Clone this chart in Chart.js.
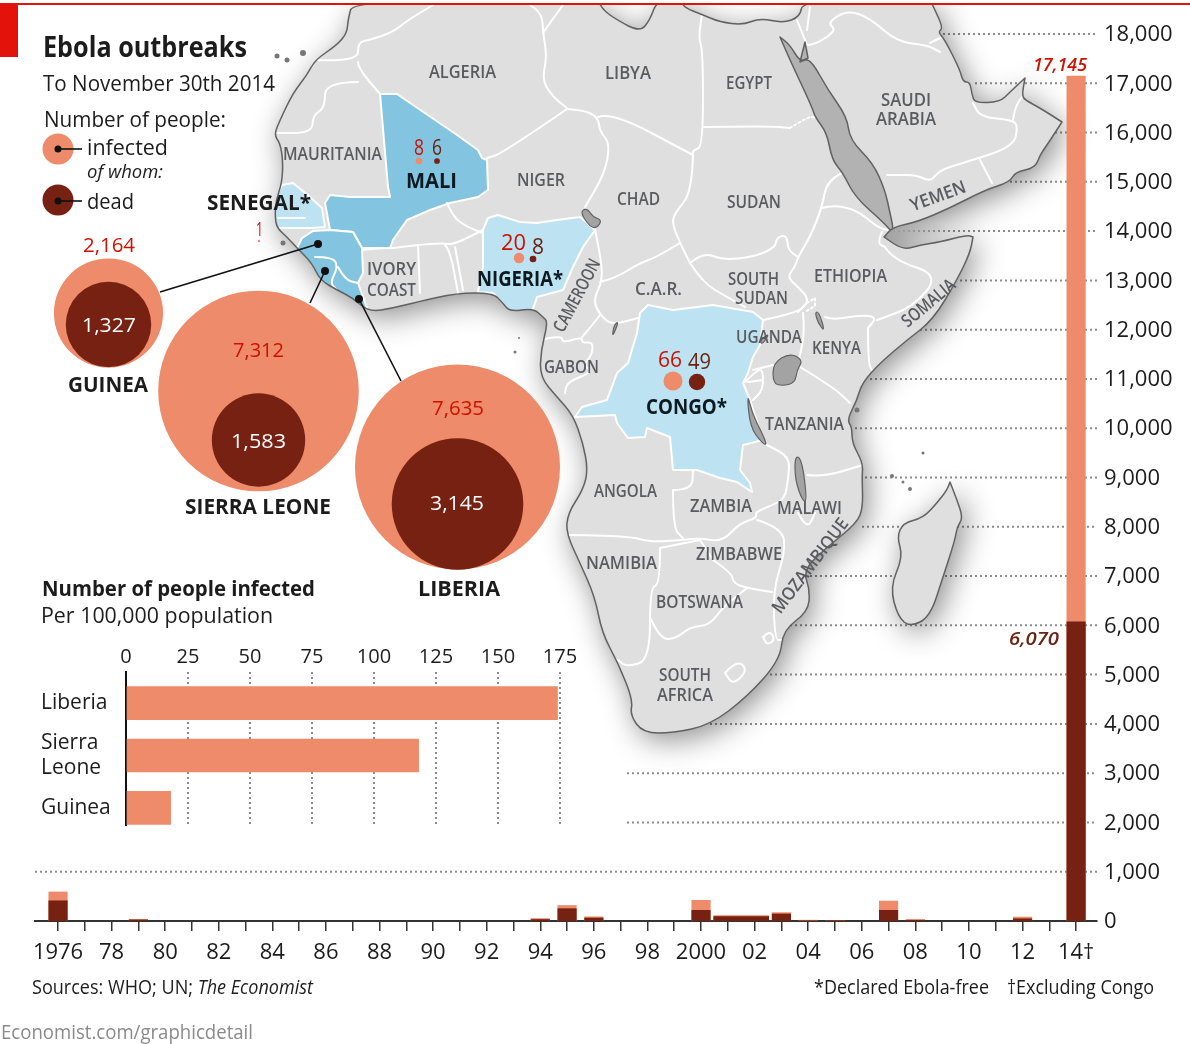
<!DOCTYPE html>
<html><head><meta charset="utf-8">
<style>
html,body{margin:0;padding:0;background:#fff;width:1190px;height:1044px;overflow:hidden}
canvas{position:absolute;left:0;top:0}
#rule{position:absolute;left:0;top:3px;width:1190px;height:2px;background:#E3120B;z-index:6}
#flag{position:absolute;left:0;top:3px;width:18px;height:54px;background:#E3120B;z-index:6}
.t{position:absolute;white-space:nowrap;z-index:5;line-height:1;font-family:"Open Sans",sans-serif}
</style>
<script src="https://cdn.jsdelivr.net/npm/chart.js@4"></script>
</head><body>
<div id="rule"></div><div id="flag"></div>
<canvas id="timeline" width="1190" height="1044" style="z-index:1"></canvas>
<canvas id="rates" width="600" height="216" style="z-index:2;top:630px"></canvas>
<canvas id="circles" width="1190" height="1044" style="z-index:3"></canvas>
<script>
/* ---------- data ---------- */
const outbreakYears=[1976,1979,1994,1995,1996,2000,2003,2004,2005,2007,2008,2012,2014];
const yearInfected=[590,34,50,315,85,420,170,17,12,405,32,80,17145];
const yearDead=[410,22,30,250,60,217,142,7,10,217,15,45,6070];
const spanYear=[2001.5];           // the 2001-02 outbreak is one wide bar
const spanInfected=[108];
const spanDead=[90];
const rateCountries=['Liberia',['Sierra','Leone'],'Guinea'];
const rateValues=[174,118,18];
const countries=['Guinea','Sierra Leone','Liberia','Mali','Nigeria','Congo','Senegal'];
const infected=[2164,7312,7635,8,20,66,1];
const dead=[1327,1583,3145,6,8,49,0];

/* ---------- styling ---------- */
const SALMON='#EE8B6A',BROWN='#762111',RED='#CC1100',DKTXT='#6A2211',GREY='#595B5E',INK='#1c1c1c';
const FF='"Open Sans",sans-serif';
const fmt=v=>v.toLocaleString('en-US');

/* ---------- base map geometry (illustration only, no data) ---------- */
const land=[[353,0],[348,20],[347,33],[337,45],[315,60],[307,75],[293,93],[280,120],[274,135],[280,143],[283,160],[282,183],[276,200],[275,217],[277,228],[287,237],[297,248],[312,263],[320,280],[337,290],[353,298],[369,312],[393,308],[417,302],[457,293],[493,293],[502,302],[510,312],[533,308],[543,317],[548,322],[541,350],[540,377],[557,397],[573,415],[583,443],[588,470],[583,490],[568,513],[566,533],[580,563],[595,597],[602,633],[618,663],[633,700],[630,715],[643,733],[673,733],[710,725],[747,697],[780,660],[783,630],[808,612],[810,590],[803,570],[827,547],[857,523],[863,507],[862,477],[863,463],[852,443],[852,427],[847,420],[857,400],[862,383],[880,363],[907,340],[933,320],[957,280],[970,253],[973,237],[973,237],[967,235],[940,242],[920,245],[903,250],[884,237],[884,237],[893,227],[917,222],[950,208],[985,190],[1010,182],[1015,172],[1035,168],[1040,155],[1047,145],[1062,122],[1062,122],[1040,108],[1025,100],[1022,95],[1025,78],[1025,78],[1010,92],[1000,102],[975,103],[972,95],[970,82],[963,82],[960,70],[945,40],[938,32],[943,28],[935,10],[930,0],[803,0],[800,17],[783,23],[760,18],[743,25],[720,22],[703,15],[683,7],[683,0],[657,0],[650,20],[640,32],[617,20],[603,10],[598,0]];
const madagascar=[[950,482],[950,482],[957,500],[963,518],[957,527],[955,540],[943,577],[930,617],[910,627],[898,617],[890,587],[903,557],[897,537],[903,523],[923,518],[937,503],[947,490]];
const mali=[[380,94],[397,94],[457,135],[478,150],[482,158],[487,160],[488,190],[478,197],[450,203],[430,210],[407,220],[393,240],[390,248],[372,248],[362,248],[353,232],[330,230],[325,203],[330,195],[350,197],[390,197],[388,187]];
const guineaBlock=[[297,248],[302,238],[313,231],[330,230],[353,232],[362,248],[363,273],[358,283],[363,297],[369,314],[353,300],[337,292],[320,282],[312,265],[295,248]];
const senegal=[[282,185],[293,183],[310,197],[322,208],[325,227],[312,228],[277,228],[272,217],[274,200]];
const nigeria=[[483,230],[488,218],[498,215],[520,222],[537,223],[557,220],[580,217],[595,230],[583,247],[573,267],[563,290],[537,297],[532,312],[510,314],[502,302],[493,293],[478,292],[483,267]];
const congo=[[648,305],[673,310],[713,305],[753,312],[763,320],[760,345],[753,357],[748,373],[743,383],[750,400],[763,440],[743,445],[740,470],[750,483],[752,492],[737,482],[720,478],[697,470],[673,470],[670,437],[647,428],[645,437],[628,438],[617,423],[615,415],[575,417],[582,407],[607,400],[617,373],[628,363],[637,333],[640,313]];
const borders=[
[[315,60],[358,62],[358,42],[370,40],[393,32],[408,20],[433,5]],
[[358,62],[358,68],[380,94]],[[397,94],[380,94]],
[[358,82],[325,82],[325,108],[313,115],[312,133],[275,133]],
[[530,5],[542,12],[543,33],[547,57],[542,80],[553,97],[567,108]],[[563,5],[550,23],[543,33]],
[[567,109],[503,153],[487,158]],
[[447,203],[453,217],[467,227],[483,233]],
[[393,248],[417,245],[443,243],[453,245],[483,230]],
[[363,250],[382,248],[393,248]],
[[418,245],[420,293]],[[445,245],[450,250],[458,293]],[[455,247],[463,290]],
[[567,109],[583,110],[598,117],[600,132],[610,143],[605,173],[585,207]],
[[598,117],[612,112],[693,155]],
[[702,15],[698,37],[703,50],[703,147],[693,150],[693,155]],
[[703,127],[768,126],[790,128]],
[[693,155],[692,192],[675,213],[672,223],[680,243],[690,263]],
[[680,243],[657,257],[640,263],[617,277],[600,282]],
[[595,230],[600,253],[603,280],[593,300],[600,315],[612,325],[638,318]],
[[600,315],[590,328],[582,337]],
[[690,263],[703,252],[723,260],[753,257],[775,248],[777,237],[787,235],[788,250],[798,257]],
[[690,263],[703,283],[727,297],[745,307]],
[[842,173],[827,180],[822,208],[810,237],[798,257],[795,267],[787,277],[798,287],[810,300],[798,312]],
[[822,208],[833,205],[857,210],[877,227],[887,230]],[[882,232],[877,243],[885,247]],
[[885,247],[893,260],[940,275],[913,307],[877,320]],
[[763,320],[797,313],[807,303]],
[[803,313],[805,333],[798,363]],[[753,370],[773,365]],
[[800,367],[833,387],[850,403]],
[[868,328],[868,363],[873,372]],[[825,317],[833,320],[860,315],[877,317],[868,328]],
[[887,175],[897,175],[917,175],[930,182],[940,170],[963,163],[1013,147],[1018,127],[1013,120],[980,117],[973,103]],
[[980,160],[992,183]],[[1013,120],[1015,107],[1022,97]],
[[807,45],[815,45],[837,30],[827,23],[847,10],[870,18],[897,42],[927,45],[940,52]],[[930,43],[942,37]],
[[797,20],[807,45]],[[810,7],[807,30]],
[[567,535],[587,535],[633,537],[650,542],[683,540],[700,538],[722,542],[740,523],[757,518],[755,512],[773,505],[785,498],[788,480],[790,457],[767,445]],
[[673,490],[692,490],[693,470]],[[673,490],[673,528],[683,538]],
[[807,475],[823,477],[863,465]],
[[798,513],[807,530],[815,513]],
[[757,520],[783,528],[785,553],[773,590],[775,640],[782,640]],
[[713,560],[732,573],[733,583],[747,588],[772,592]],[[700,540],[713,560]],
[[660,548],[700,540]],[[660,548],[660,585],[650,587],[650,660],[627,667],[618,660]],
[[650,617],[660,640],[677,638],[690,627],[710,625],[723,607],[747,588]],
[[725,673],[737,660],[748,670],[733,685],[725,673]],[[763,637],[770,630],[775,640],[767,645],[763,637]],
[[745,382],[757,370],[763,370],[763,390],[753,400]],[[748,382],[763,380]],
[[540,340],[562,335],[562,343],[582,337],[582,343],[593,342],[592,355],[583,365],[593,372],[567,382],[565,393]],
[[315,257],[333,257],[338,267],[330,283],[337,290]],[[338,267],[345,280],[358,283]],
[[278,218],[305,218]]
];
const dashedBorders=[[[790,128],[800,122],[810,117],[822,118]],[[807,303],[815,298],[815,306],[805,312]]];
const redSea=[[780,37],[780,37],[790,60],[812,107],[815,117],[827,133],[832,160],[843,173],[855,197],[883,222],[892,232],[893,227],[890,213],[885,190],[873,163],[850,140],[847,117],[828,90],[810,58],[800,62],[790,45]];
const aqaba=[[800,62],[805,42],[808,58]];
const lakes=[
[[773,363],[790,353],[803,360],[797,370],[795,383],[782,386],[773,383]],
[[747,392],[752,413],[762,433],[767,445],[762,443],[750,427]],
[[795,455],[802,460],[807,500],[803,502],[795,480]],
[[580,212],[587,208],[593,217],[602,220],[597,228],[590,227]],
[[815,312],[819,312],[825,332],[818,323]],
[[760,340],[770,333],[762,345]],[[619,321],[612,338],[614,325]]
];
const islands=[[277,56,2.5],[287,60,2.5],[303,53,3],[283,243,2.5],[515,352,1.5],[519,338,1],[892,476,2],[903,482,1.5],[910,489,2],[923,453,1.5],[857,410,2.5]];
const gridStarts=[35,627,627,710,770,790,800,862,860,855,870,915,960,893,1000,1000,975,943];

function pathOf(pts,close,smooth){
  const p=new Path2D(),n=pts.length;
  if(!smooth){pts.forEach((q,i)=>i?p.lineTo(q[0],q[1]):p.moveTo(q[0],q[1]));if(close)p.closePath();return p;}
  const mid=(a,b)=>[(a[0]+b[0])/2,(a[1]+b[1])/2];
  if(close){
    const s=mid(pts[n-1],pts[0]);p.moveTo(s[0],s[1]);
    for(let i=0;i<n;i++){const m=mid(pts[i],pts[(i+1)%n]);p.quadraticCurveTo(pts[i][0],pts[i][1],m[0],m[1]);}
    p.closePath();
  }else{
    p.moveTo(pts[0][0],pts[0][1]);
    for(let i=1;i<n-1;i++){const m=mid(pts[i],pts[i+1]);p.quadraticCurveTo(pts[i][0],pts[i][1],m[0],m[1]);}
    p.lineTo(pts[n-1][0],pts[n-1][1]);
  }
  return p;
}

const mapBackdrop={id:'mapBackdrop',beforeDatasetsDraw(c){
  const x=c.ctx,yS=c.scales.y;
  x.save();
  /* dotted value lines run behind the land */
  x.strokeStyle='#8d8d8d';x.lineWidth=2;x.setLineDash([2,3]);
  yS.ticks.forEach(t=>{const i=t.value/1000;if(i===0)return;const py=yS.getPixelForValue(t.value);x.beginPath();x.moveTo(gridStarts[i-1],py);x.lineTo(c.chartArea.right,py);x.stroke();});
  x.setLineDash([]);
  x.beginPath();x.rect(0,5,1190,1039);x.clip();
  const L=pathOf(land,true,true),M=pathOf(madagascar,true,true);
  x.save();x.shadowColor='rgba(0,0,0,.45)';x.shadowBlur=30;x.shadowOffsetX=5;x.shadowOffsetY=7;x.fillStyle='#DFDFDF';x.fill(L);x.fill(M);x.restore();
  x.fillStyle='#DFDFDF';x.fill(L);x.fill(M);
  x.lineJoin='round';x.lineCap='round';
  x.save();x.clip(L);
  [[mali,'#83C5E0'],[guineaBlock,'#83C5E0'],[senegal,'#BDE2F2'],[nigeria,'#BDE2F2'],[congo,'#BDE2F2']].forEach(a=>{const p=pathOf(a[0],true);x.fillStyle=a[1];x.fill(p);x.strokeStyle='#fff';x.lineWidth=2;x.stroke(p);});
  x.strokeStyle='#fff';x.lineWidth=2;
  borders.forEach(b=>x.stroke(pathOf(b,false,true)));
  x.setLineDash([2,3]);dashedBorders.forEach(b=>x.stroke(pathOf(b)));x.setLineDash([]);
  x.restore();
  /* Red Sea and Gulf of Aden */
  const rs=pathOf(redSea,true,true),aq=pathOf(aqaba,true);x.fillStyle='#B2B2B2';x.fill(rs);x.fill(aq);x.strokeStyle='#616161';x.lineWidth=1.5;x.stroke(rs);x.stroke(aq);
  const gulf=pathOf([[884,237],[903,250],[920,245],[940,242],[960,236],[945,225],[917,222],[893,227]],true,true);
  const g=x.createLinearGradient(890,0,955,0);g.addColorStop(0,'#A5A5A5');g.addColorStop(1,'rgba(200,200,200,0)');x.fillStyle=g;x.fill(gulf);
  x.fillStyle='#A3A3A3';x.strokeStyle='#616161';x.lineWidth=1.2;
  lakes.forEach(l=>{const p=pathOf(l,true,true);x.fill(p);x.stroke(p);});
  x.lineWidth=1.5;x.stroke(L);x.stroke(M);
  x.fillStyle='#777';islands.forEach(i=>{x.beginPath();x.arc(i[0],i[1],i[2],0,7);x.fill();});
  x.restore();
}};

/* ---------- timeline with the right-hand value axis ---------- */
const asPts=(xs,ys)=>xs.map((v,i)=>({x:v,y:ys[i]}));
new Chart(document.getElementById('timeline'),{
  type:'bar',plugins:[mapBackdrop],
  data:{datasets:[
    {label:'dead',data:asPts(outbreakYears,yearDead),backgroundColor:BROWN,barThickness:18.5,grouped:false},
    {label:'dead 2001-02',data:asPts(spanYear,spanDead),backgroundColor:BROWN,barThickness:55,grouped:false},
    {label:'infected',data:asPts(outbreakYears,yearInfected),backgroundColor:SALMON,barThickness:18.5,grouped:false},
    {label:'infected 2001-02',data:asPts(spanYear,spanInfected),backgroundColor:SALMON,barThickness:55,grouped:false}
  ]},
  options:{responsive:false,animation:false,events:[],
    layout:{padding:{left:35,top:34,right:0,bottom:0}},
    plugins:{legend:{display:false},tooltip:{enabled:false}},
    scales:{
      x:{type:'linear',offset:false,min:1975.14,max:2014.78,
        grid:{offset:false,drawOnChartArea:false,drawTicks:true,tickLength:10,color:'#333',lineWidth:1.5},
        border:{display:true,color:'#333',width:2},
        afterFit:s=>{s.height=123},
        ticks:{stepSize:1,includeBounds:false,autoSkip:false,maxRotation:0,padding:9,color:INK,font:{family:FF,size:22},
          callback:v=>{if(v%2)return '';if(v===1976)return '1976';if(v===2000)return '2000';if(v===2014)return '14\u2020';return String(v).slice(2);}}},
      y:{position:'right',min:0,max:18000,grid:{display:false,drawTicks:false},border:{display:false},
        afterFit:s=>{s.width=93},
        ticks:{stepSize:1000,padding:7,autoSkip:false,labelOffset:1,color:INK,font:{family:FF,size:22},callback:v=>fmt(v)}}
    }}
});

/* ---------- infected per 100,000 ---------- */
new Chart(document.getElementById('rates'),{
  type:'bar',
  data:{datasets:[{data:rateValues.map((v,i)=>({x:v,y:i})),backgroundColor:SALMON,barThickness:33}]},
  options:{indexAxis:'y',responsive:false,animation:false,events:[],
    layout:{padding:{left:41,top:0,right:40,bottom:15}},
    plugins:{legend:{display:false},tooltip:{enabled:false}},
    scales:{
      x:{position:'top',min:0,max:175,
        grid:{color:'#8a8a8a',lineWidth:2,drawTicks:false},
        border:{display:false,dash:[2,3]},
        afterFit:s=>{s.height=42},
        ticks:{stepSize:25,padding:3,color:INK,font:{family:FF,size:20}}},
      y:{type:'linear',offset:false,reverse:true,min:-0.596,max:2.346,grid:{display:false,drawTicks:false,offset:false},
        border:{display:true,color:'#111',width:2},
        afterFit:s=>{s.width=85},
        ticks:{stepSize:1,includeBounds:false,autoSkip:false,padding:8,crossAlign:'far',color:INK,font:{family:FF,size:21,lineHeight:1.15},
          callback:v=>rateCountries[v]}}
    }}
});

/* ---------- outbreak circles ---------- */
const K=1.173; // radius per sqrt(person)
const areaR=v=>K*Math.sqrt(v);
const placeInf=[[108.5,313],[258.5,391],[457.5,467],[419,161],[519,258],[673,381],[259,241]];
const placeDead=[[108.5,324.5],[258.5,440],[457.5,504],[437,161],[533,259],[697,382],null];
const leaders=[[[160,292],[318,244]],[[310,303],[325,271]],[[401,381],[359,299]]];
const legendInf=[58,149],legendDead=[58,200];
const lineSet=p=>({type:'line',data:p.map(q=>({x:q[0],y:q[1]})),borderColor:'#111',borderWidth:1.6,pointRadius:ctx=>ctx.dataIndex===p.length-1?4:0,pointBackgroundColor:'#111',pointBorderWidth:0,order:0});
new Chart(document.getElementById('circles'),{
  type:'bubble',
  data:{datasets:[
    ...leaders.map(lineSet),
    {type:'line',data:[{x:58,y:149},{x:82,y:149}],borderColor:'#111',borderWidth:1.6,pointRadius:c=>c.dataIndex?0:3.5,pointBackgroundColor:'#111',pointBorderWidth:0,order:0},
    {type:'line',data:[{x:58,y:201},{x:82,y:201}],borderColor:'#111',borderWidth:1.6,pointRadius:c=>c.dataIndex?0:3.5,pointBackgroundColor:'#111',pointBorderWidth:0,order:0},
    {label:'dead',data:dead.map((v,i)=>placeDead[i]?{x:placeDead[i][0],y:placeDead[i][1],r:areaR(v)}:null).filter(Boolean),backgroundColor:BROWN,borderWidth:0,order:1},
    {label:'infected',data:infected.map((v,i)=>({x:placeInf[i][0],y:placeInf[i][1],r:areaR(v)})),backgroundColor:SALMON,borderWidth:0,order:2},
    {label:'key',data:[{x:legendDead[0],y:legendDead[1],r:15.5}],backgroundColor:BROWN,borderWidth:0,order:1},
    {label:'key',data:[{x:legendInf[0],y:legendInf[1],r:15.5}],backgroundColor:SALMON,borderWidth:0,order:2}
  ]},
  options:{responsive:false,animation:false,events:[],layout:{padding:0,autoPadding:false},
    plugins:{legend:{display:false},tooltip:{enabled:false}},
    scales:{x:{display:false,offset:false,min:0,max:1190},y:{display:false,offset:false,reverse:true,min:0,max:1044}}}
});

/* ---------- text ---------- */
function T(html,x0,x1,y,size,o){o=o||{};
  y-=0.5;
  const s=document.createElement('span');s.className='t';s.innerHTML=html;
  s.style.fontSize=size+'px';s.style.color=o.c||INK;s.style.fontWeight=o.b?700:(o.w||400);if(o.i)s.style.fontStyle='italic';
  document.body.appendChild(s);
  const r=s.getBoundingClientRect(),sx=(x1-x0)/r.width;
  if(o.rot!==undefined){s.style.left=((x0+x1)/2-r.width/2)+'px';s.style.top=(y-r.height/2)+'px';s.style.transform='rotate('+o.rot+'deg) scaleX('+sx+')';}
  else{s.style.left=x0+'px';s.style.top=(y-r.height/2)+'px';s.style.transformOrigin='left center';s.style.transform='scaleX('+sx+')';}
}
const mp=(t,a,b,y,o)=>T(t,a,b,y,18,Object.assign({c:GREY,w:600},o||{}));
const B=(t,a,b,y,sz,c)=>T(t,a,b,y,sz||21,{b:1,c:c||INK});
B('Ebola outbreaks',43,247,46,29);
T('To November 30th 2014',43,275,82,22);
T('Number of people:',44,226,118,22);
T('infected',87,168,146,22);
T('of whom:',87,163,172,19,{i:1});
T('dead',87,134,200,22);
B('SENEGAL*',207,311,203);
T(fmt(infected[6]),256,263,229,20,{c:RED});
T(fmt(infected[0]),83,135,245,20,{c:RED});
T(fmt(dead[0]),82,136,325,20,{c:'#fff'});
B('GUINEA',68,148,385);
T(fmt(infected[1]),233,284,350,20,{c:RED});
T(fmt(dead[1]),231,286,441,20,{c:'#fff'});
B('SIERRA LEONE',185,331,507);
T(fmt(infected[2]),432,484,408,20,{c:RED});
T(fmt(dead[2]),430,484,503,20,{c:'#fff'});
B('LIBERIA',418,500,589);
B('Number of people infected',42,315,587,22);
T('Per 100,000 population',41,273,616,21);
mp('ALGERIA',429,496,71);mp('LIBYA',605,651,72);mp('EGYPT',726,772,82);
mp('SAUDI',881,931,99);mp('ARABIA',876,936,118);mp('MAURITANIA',283,382,153);
T(fmt(infected[3]),414,424,146,22,{c:RED});T(fmt(dead[3]),432,442,146,22,{c:DKTXT});
B('MALI',406,457,179,22,'#0d1a22');
mp('NIGER',517,565,179);mp('CHAD',617,660,198);mp('SUDAN',727,781,201);
mp('YEMEN',909,967,195,{rot:-20});mp('ETHIOPIA',814,887,275);mp('SOMALIA',896,960,302,{rot:-40});
mp('SOUTH',728,779,278);mp('SUDAN',735,788,297);mp('C.A.R.',635,682,288);
mp('CAMEROON',536,616,295,{rot:-62});mp('IVORY',367,416,268);mp('COAST',367,416,289);
T(fmt(infected[4]),501,526,241,22,{c:RED});T(fmt(dead[4]),532,544,245,22,{c:DKTXT});
B('NIGERIA*',477,563,279,21,'#0d1a22');
mp('GABON',544,599,366);
T(fmt(infected[5]),658,682,358,22,{c:RED});T(fmt(dead[5]),688,711,360,22,{c:DKTXT});
B('CONGO*',646,727,407,21,'#0d1a22');
mp('UGANDA',736,802,336);mp('KENYA',812,861,347);mp('TANZANIA',765,844,423);
mp('ANGOLA',594,657,490);mp('ZAMBIA',690,752,505);mp('MALAWI',777,842,507);
mp('MOZAMBIQUE',752,866,565,{rot:-53});mp('ZIMBABWE',696,782,553);mp('NAMIBIA',586,657,562);
mp('BOTSWANA',656,743,601);mp('SOUTH',659,711,674);mp('AFRICA',657,713,694);
T('Sources: WHO; UN; <i>The Economist</i>',32,313,987,20);
T('*Declared Ebola-free',814,989,987,20);
T('\u2020Excluding Congo',1007,1154,987,20);
T('Economist.com/graphicdetail',1,253,1032,20,{c:'#8a8a8a'});
T(fmt(yearInfected[12]),1033,1087,64,18,{c:RED,i:1,w:600});
T(fmt(yearDead[12]),1009,1059,638,18,{c:DKTXT,i:1,w:600});
</script>
</body></html>
